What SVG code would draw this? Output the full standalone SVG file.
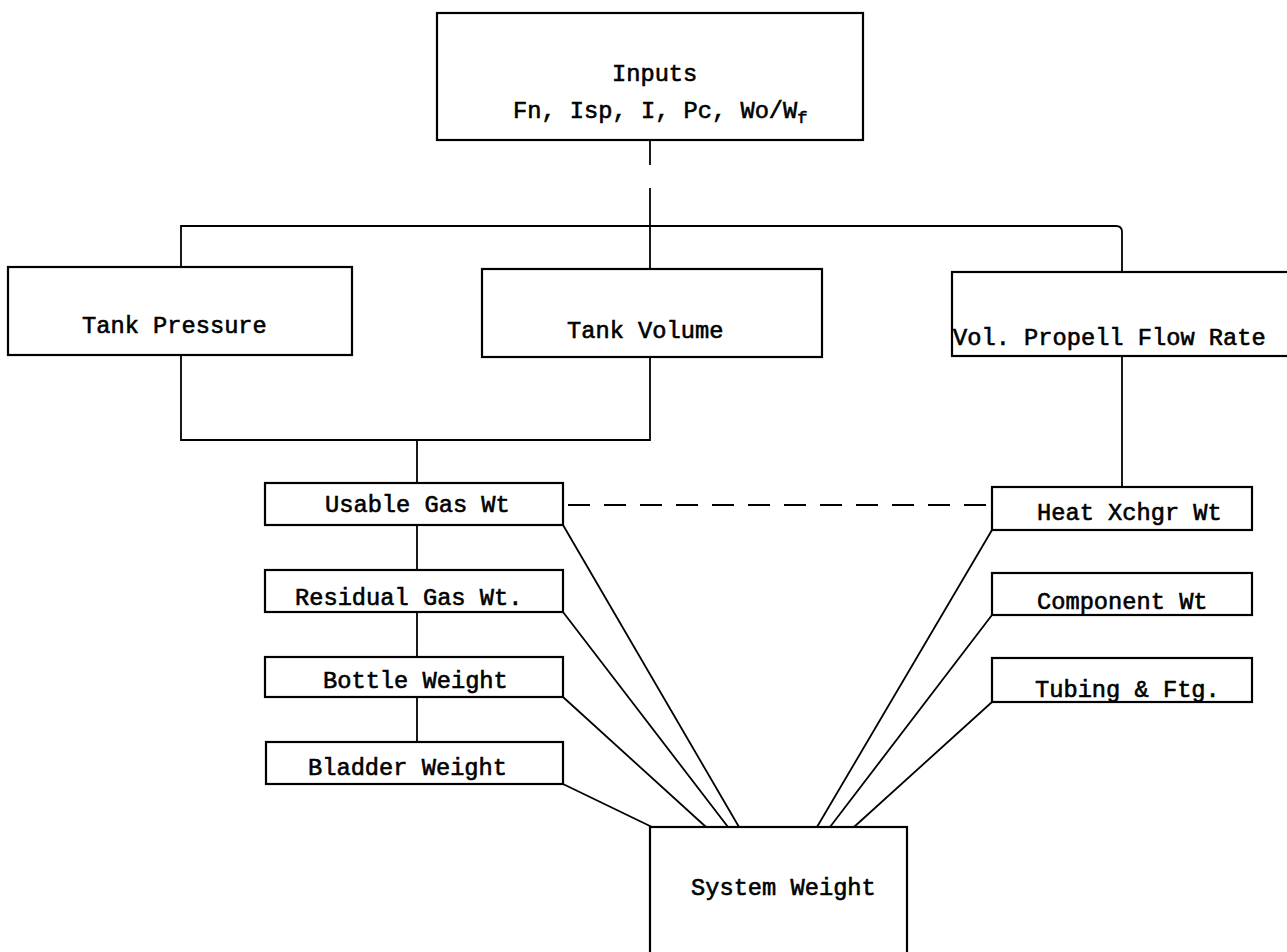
<svg xmlns="http://www.w3.org/2000/svg" width="1287" height="952" viewBox="0 0 1287 952">
<style>
.box{fill:#fff;stroke:#000;stroke-width:2.2}
.ln{fill:none;stroke:#000;stroke-width:1.8}
.dash{fill:none;stroke:#000;stroke-width:1.8;stroke-dasharray:22 14}
text{font-family:"Liberation Mono","Courier New",monospace;font-size:23.7px;fill:#000;stroke:#000;stroke-width:0.6}
</style>
<rect width="1287" height="952" fill="#fff"/>
<g id="connectors">
<path class="ln" d="M650 140 V165 M650 188 V269"/>
<path class="ln" d="M181 267 V226 H1116 Q1122 226 1122 232 V272"/>
<path class="ln" d="M181 355 V440 H650 V357"/>
<path class="ln" d="M417 440 V483 M417 525 V570 M417 612 V657 M417 697 V742"/>
<path class="ln" d="M1122 356 V487"/>
<path class="dash" d="M568 505 H992"/>
<path class="ln" d="M563 525 L739 827 M563 612 L728 827 M563 697 L706 827 M563 784 L652 827"/>
<path class="ln" d="M992 530 L817 827 M992 615 L830 827 M992 702 L854 827"/>
</g>
<g id="inputs">
<rect class="box" x="437" y="13" width="426" height="127"/>
<text x="612" y="81">Inputs</text>
<text x="513" y="118">Fn, Isp, I, Pc, Wo/W<tspan font-size="17" dy="5">f</tspan></text>
</g>
<g id="tank-pressure">
<rect class="box" x="8" y="267" width="344" height="88"/>
<text x="82" y="333">Tank Pressure</text>
</g>
<g id="tank-volume">
<rect class="box" x="482" y="269" width="340" height="88"/>
<text x="567" y="338">Tank Volume</text>
</g>
<g id="vol-propell">
<rect class="box" x="952" y="272" width="345" height="84"/>
<text x="953" y="345">Vol. Propell Flow Rate</text>
</g>
<g id="usable-gas">
<rect class="box" x="265" y="483" width="298" height="42"/>
<text x="325" y="512">Usable Gas Wt</text>
</g>
<g id="residual-gas">
<rect class="box" x="265" y="570" width="298" height="42"/>
<text x="295" y="605">Residual Gas Wt.</text>
</g>
<g id="bottle-weight">
<rect class="box" x="265" y="657" width="298" height="40"/>
<text x="323" y="688">Bottle Weight</text>
</g>
<g id="bladder-weight">
<rect class="box" x="266" y="742" width="297" height="42"/>
<text x="308" y="775">Bladder Weight</text>
</g>
<g id="heat-xchgr">
<rect class="box" x="992" y="487" width="260" height="43"/>
<text x="1037" y="520">Heat Xchgr Wt</text>
</g>
<g id="component">
<rect class="box" x="992" y="573" width="260" height="42"/>
<text x="1037" y="609">Component Wt</text>
</g>
<g id="tubing">
<rect class="box" x="992" y="658" width="260" height="44"/>
<text x="1035" y="697">Tubing &amp; Ftg.</text>
</g>
<g id="system-weight">
<rect class="box" x="650" y="827" width="257" height="140"/>
<text x="691" y="895">System Weight</text>
</g>
</svg>
